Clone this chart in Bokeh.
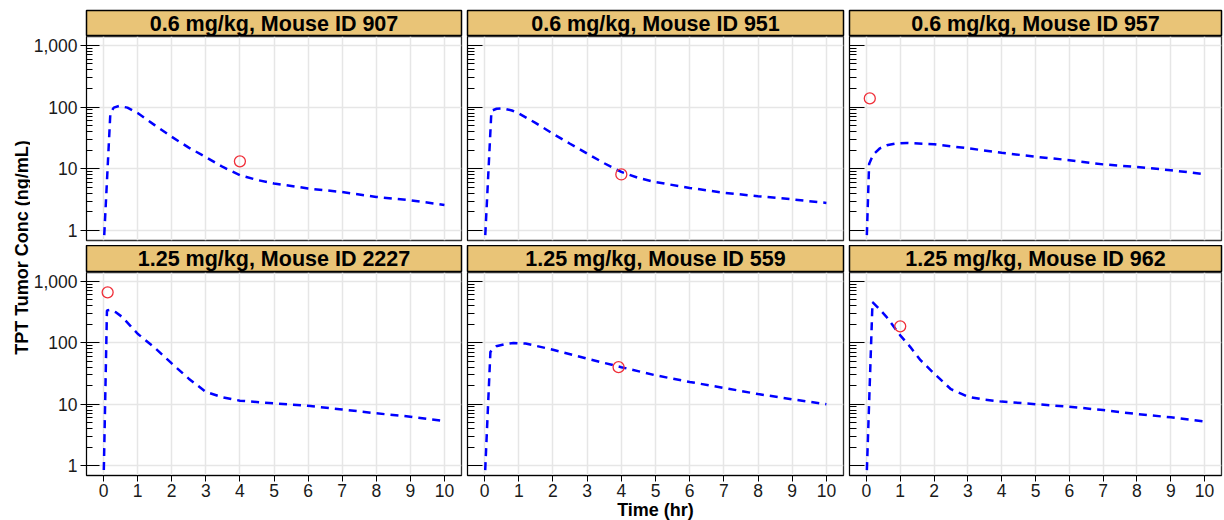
from bokeh.plotting import figure
from bokeh.layouts import row, column
from bokeh.models import FixedTicker, CustomJSTickFormatter, Range1d
from bokeh.core.properties import value
from bokeh.embed import file_html
from bokeh.resources import INLINE
import math

FONT = "Liberation Sans"

# ---- data -------------------------------------------------------------
panel_titles = [
    "0.6 mg/kg, Mouse ID 907",
    "0.6 mg/kg, Mouse ID 951",
    "0.6 mg/kg, Mouse ID 957",
    "1.25 mg/kg, Mouse ID 2227",
    "1.25 mg/kg, Mouse ID 559",
    "1.25 mg/kg, Mouse ID 962",
]

# observed tumor concentrations (ng/mL)
obs_time = [4.0, 4.0, 0.1, 0.12, 3.92, 1.0]
obs_conc = [13.2, 8.1, 138.0, 660.0, 40.0, 185.0]

# model-predicted profiles (ng/mL)
pred_time_907 = [0, 0.2, 0.3, 0.45, 0.7, 1.0, 1.5, 2.0, 2.5, 3.0, 3.5, 4.0, 4.5, 5, 6, 7, 8, 9, 10]
pred_conc_907 = [0.5, 80, 98, 104, 98, 80, 51, 33, 22, 15.5, 10.7, 7.9, 6.6, 5.8, 4.8, 4.2, 3.5, 3.1, 2.6]

pred_time_951 = [0, 0.2, 0.35, 0.55, 0.8, 1.0, 1.5, 2.0, 2.5, 3.0, 3.5, 4.0, 4.5, 5, 6, 7, 8, 9, 10]
pred_conc_951 = [0.5, 87, 94, 95, 88, 79, 55, 37, 25.5, 17.7, 12.3, 8.9, 7.1, 6.1, 4.9, 4.1, 3.6, 3.2, 2.8]

pred_time_957 = [0, 0.08, 0.2, 0.4, 0.6, 0.9, 1.2, 2, 3, 4, 5, 6, 7, 8, 9, 10]
pred_conc_957 = [0.5, 12, 17, 21.5, 24, 25.8, 26.3, 25, 21.5, 18.2, 15.7, 13.8, 11.8, 10.7, 9.5, 8.2]

pred_time_2227 = [0, 0.1, 0.2, 0.35, 0.55, 0.8, 1.0, 1.5, 2.0, 2.5, 3.0, 3.5, 4, 5, 6, 7, 8, 9, 10]
pred_conc_2227 = [0.5, 335, 343, 315, 262, 185, 140, 83, 46, 26, 15.8, 12.9, 11.4, 10.3, 9.4, 8.2, 7.1, 6.25, 5.3]

pred_time_559 = [0, 0.17, 0.34, 0.6, 0.85, 1.2, 2, 3, 4, 5, 6, 7, 8, 9, 10]
pred_conc_559 = [0.5, 71, 87.5, 95, 99, 97, 77, 55, 40, 29.5, 23, 18.4, 14.6, 12, 10]

pred_time_962 = [0, 0.18, 0.35, 0.6, 1.0, 1.3, 1.6, 2.0, 2.5, 3.0, 3.5, 4, 5, 6, 7, 8, 9, 10]
pred_conc_962 = [0.5, 457, 370, 261, 132, 85, 52, 31.6, 17.5, 13.2, 11.8, 11, 10, 9.1, 8.0, 6.9, 6.1, 5.2]

pred_times = [pred_time_907, pred_time_951, pred_time_957,
              pred_time_2227, pred_time_559, pred_time_962]
pred_concs = [pred_conc_907, pred_conc_951, pred_conc_957,
              pred_conc_2227, pred_conc_559, pred_conc_962]

x_ticks = list(range(0, 11))
y_major = [1, 10, 100, 1000]
y_minor = [m * d for d in (1, 10, 100) for m in range(2, 10)] + [2000]

# ---- styling ----------------------------------------------------------
STRIP_FILL = "#E9C477"
GRID = "#E6E6E6"
LINE_BLUE = "#0000FF"
OBS_RED = "#F0303A"

# per-column geometry: (left border, frame width, right border)
COLS = [(56, 375, 2), (4, 376, 2), (4, 372, 3)]
# per-row geometry: (strip top border, strip height, panel height, panel bottom border)
ROWS = [(10, 26, 204, 5), (0, 27, 203, 45)]


def make_strip(title, ci, ri):
    bl, fw, br = COLS[ci]
    st, sh, _, _ = ROWS[ri]
    s = figure(frame_width=fw, frame_height=sh, x_range=(0, 1), y_range=(0, 1),
               x_axis_type=None, y_axis_type=None, toolbar_location=None,
               output_backend="svg", min_border_left=bl, min_border_right=br,
               min_border_top=st, min_border_bottom=0,
               background_fill_color=STRIP_FILL, border_fill_color="white",
               outline_line_color="black", outline_line_width=1.5)
    s.grid.visible = False
    s.text(x=[0.5], y=[0.5], text=[title], text_align="center",
           text_baseline="middle", text_font=value(FONT),
           text_font_style="bold", text_font_size="21.5px", text_color="black")
    return s


def make_panel(k, ci, ri):
    bl, fw, br = COLS[ci]
    _, _, ph, pb = ROWS[ri]
    p = figure(frame_width=fw, frame_height=ph, y_axis_type="log",
               x_range=Range1d(-0.5, 10.5), y_range=Range1d(0.69, 1390),
               toolbar_location=None, output_backend="svg",
               min_border_left=bl, min_border_right=br,
               min_border_top=0, min_border_bottom=pb,
               background_fill_color="white", border_fill_color="white",
               outline_line_color="#333333", outline_line_width=1.3)

    # grid
    p.xgrid.ticker = FixedTicker(ticks=x_ticks)
    p.ygrid.ticker = FixedTicker(ticks=y_major)
    for g in (p.xgrid, p.ygrid):
        g.grid_line_color = GRID
        g.grid_line_width = 1.5

    # y axis with log tick marks
    ya = p.yaxis[0]
    ya.ticker = FixedTicker(ticks=y_major, minor_ticks=y_minor)
    ya.axis_line_color = "black"
    ya.major_tick_line_color = "black"
    ya.minor_tick_line_color = "black"
    ya.minor_tick_out = 0
    if ci == 0:
        ya.formatter = CustomJSTickFormatter(code="""
            const s = Math.round(tick).toString();
            return s.replace(/\\B(?=(\\d{3})+(?!\\d))/g, ",");
        """)
        ya.major_tick_in = 13
        ya.major_tick_out = 6
        ya.minor_tick_in = 6
        ya.major_label_standoff = 3
        ya.major_label_text_font = FONT
        ya.major_label_text_font_size = "17.5px"
        ya.major_label_text_color = "#1a1a1a"
    else:
        ya.formatter = CustomJSTickFormatter(code="return '';")
        ya.major_tick_in = 15
        ya.major_tick_out = 0
        ya.minor_tick_in = 7
        ya.major_label_standoff = 0

    xa = p.xaxis[0]
    xa.ticker = FixedTicker(ticks=x_ticks, minor_ticks=[])
    if ri == 1:
        xa.axis_line_color = "black"
        xa.major_tick_line_color = "black"
        xa.major_tick_in = 0
        xa.major_tick_out = 6
        xa.major_label_standoff = 2
        xa.major_label_text_font = FONT
        xa.major_label_text_font_size = "17.5px"
        xa.major_label_text_color = "#1a1a1a"
        if ci == 1:
            xa.axis_label = "Time (hr)"
            xa.axis_label_standoff = 0
            xa.axis_label_text_font = FONT
            xa.axis_label_text_font_style = "bold"
            xa.axis_label_text_font_size = "18px"
            xa.axis_label_text_color = "black"
    else:
        xa.visible = False

    p.line(pred_times[k], pred_concs[k], line_color=LINE_BLUE,
           line_width=2.5, line_dash="8 6")
    p.scatter([obs_time[k]], [obs_conc[k]], marker="circle", size=11,
              fill_color=None, line_color=OBS_RED, line_width=1.3)
    return p


# shared y-axis title
ytitle = figure(width=30, height=520, x_range=(0, 1), y_range=(0, 1),
                x_axis_type=None, y_axis_type=None, toolbar_location=None,
                output_backend="svg", min_border=0, outline_line_color=None)
ytitle.grid.visible = False
ytitle.text(x=[0.7], y=[0.525], text=["TPT Tumor Conc (ng/mL)"], angle=math.pi / 2,
            text_align="center", text_baseline="middle", text_font=value(FONT),
            text_font_style="bold", text_font_size="18px", text_color="black")

columns = []
for ci in range(3):
    items = []
    for ri in range(2):
        k = ri * 3 + ci
        items.append(make_strip(panel_titles[k], ci, ri))
        items.append(make_panel(k, ci, ri))
    columns.append(column(*items, spacing=0))

layout = row(ytitle, *columns, spacing=0)

open("out.html", "w").write(file_html(layout, INLINE))
